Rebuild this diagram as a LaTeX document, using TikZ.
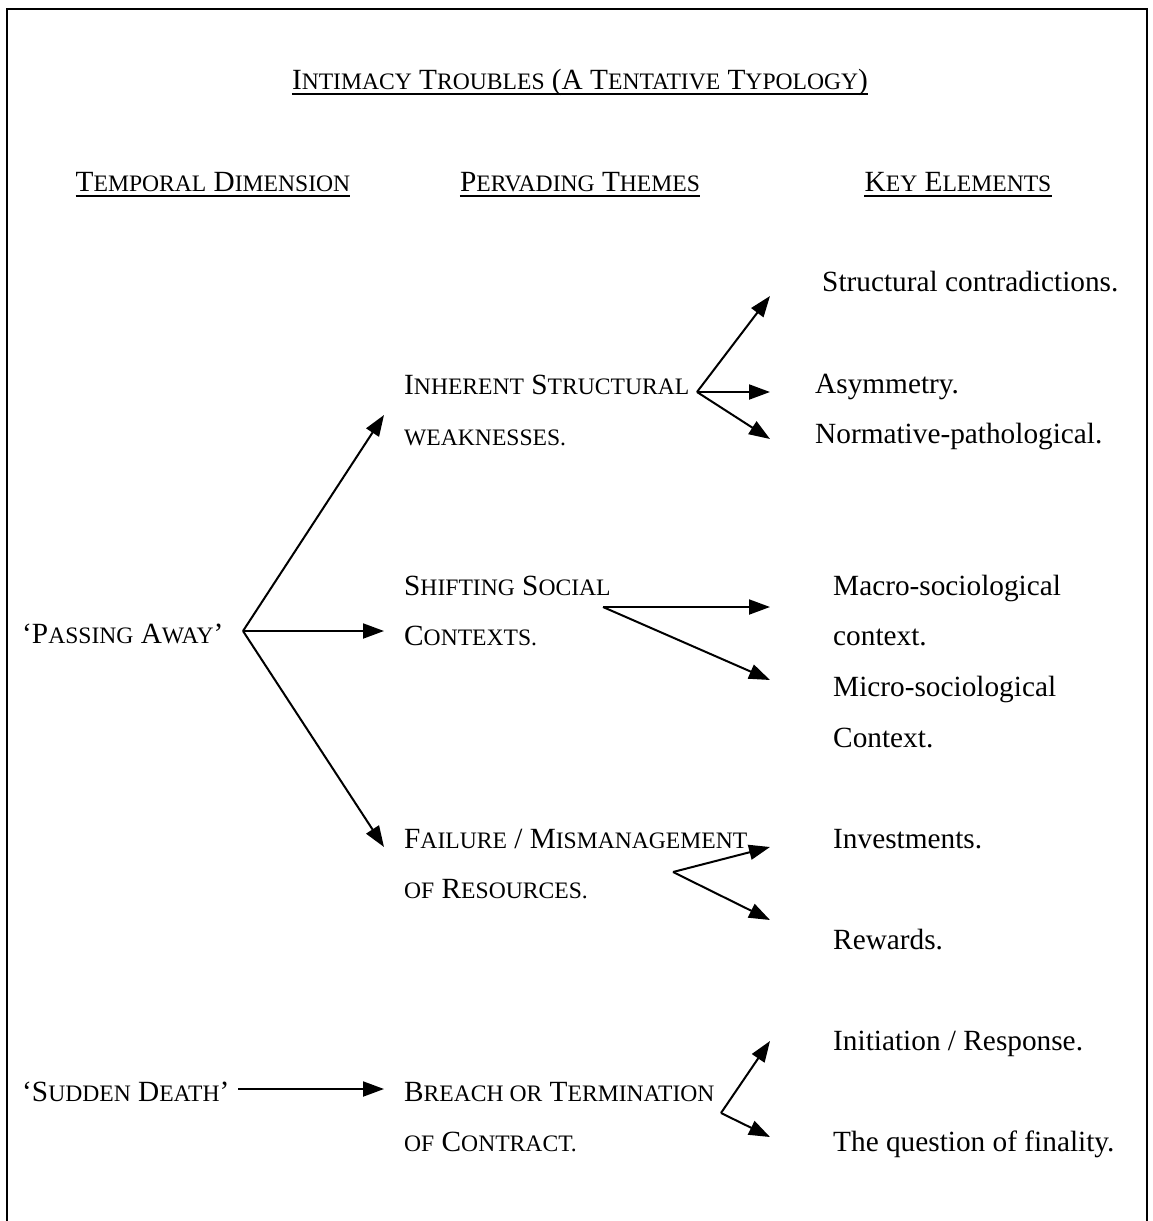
\documentclass[tikz,border=0pt]{standalone}
\usepackage{fontspec}
\setmainfont{Liberation Serif}
\usetikzlibrary{arrows.meta}
% hand-made small capitals: lower-case letters as reduced capitals
\newcommand\lsc[1]{{\fontsize{23.6}{24}\selectfont #1}}
\begin{document}
\begin{tikzpicture}[x=1pt,y=-1pt,
  txt/.style={anchor=base west,inner sep=0pt,font=\fontsize{29.3}{30}\selectfont},
  head/.style={anchor=base,inner sep=0pt,font=\fontsize{29.3}{30}\selectfont},
  uline/.style={line width=1.4pt},
  conn/.style={line width=2pt,-{Triangle[length=21pt,width=15pt]}}]
\useasboundingbox (0,0) rectangle (1153,1221);
% open frame
\draw[line width=1.6pt] (7,1221) -- (7,9) -- (1147,9) -- (1147,1221);

% headings
\node[head] (title) at (580,89) {I\lsc{NTIMACY} T\lsc{ROUBLES} (A T\lsc{ENTATIVE} T\lsc{YPOLOGY})};
\node[head] (hTemp) at (213,191) {T\lsc{EMPORAL} D\lsc{IMENSION}};
\node[head] (hTheme) at (580,191) {P\lsc{ERVADING} T\lsc{HEMES}};
\node[head] (hKey) at (958,191) {K\lsc{EY} E\lsc{LEMENTS}};
\foreach \h in {title,hTemp,hTheme,hKey}
  \draw[uline] ([yshift=-5pt]\h.base west) -- ([yshift=-5pt]\h.base east);

% temporal dimension
\node[txt] (pass) at (22,643) {`P\lsc{ASSING} A\lsc{WAY}'};
\node[txt] (sudden) at (22,1101) {`S\lsc{UDDEN} D\lsc{EATH}'};

% pervading themes
\node[txt] (inh1) at (404,394) {I\lsc{NHERENT} S\lsc{TRUCTURAL}};
\node[txt] (inh2) at (404,445) {\lsc{WEAKNESSES.}};
\node[txt] (shi1) at (404,595) {S\lsc{HIFTING} S\lsc{OCIAL}};
\node[txt] (shi2) at (404,645) {C\lsc{ONTEXTS.}};
\node[txt] (fai1) at (404,848) {F\lsc{AILURE} / M\lsc{ISMANAGEMENT}};
\node[txt] (fai2) at (404,898) {\lsc{OF} R\lsc{ESOURCES.}};
\node[txt] (bre1) at (404,1101) {B\lsc{REACH OR} T\lsc{ERMINATION}};
\node[txt] (bre2) at (404,1151) {\lsc{OF} C\lsc{ONTRACT.}};

% key elements
\node[txt] (k1) at (822,291) {Structural contradictions.};
\node[txt] (k2) at (815,393) {Asymmetry.};
\node[txt] (k3) at (815,443) {Normative-pathological.};
\node[txt] (k4) at (833,595) {Macro-sociological};
\node[txt] (k4b) at (833,645) {context.};
\node[txt] (k5) at (833,696) {Micro-sociological};
\node[txt] (k5b) at (833,747) {Context.};
\node[txt] (k6) at (833,848) {Investments.};
\node[txt] (k7) at (833,949) {Rewards.};
\node[txt] (k8) at (833,1050) {Initiation / Response.};
\node[txt] (k9) at (833,1151) {The question of finality.};

% branch points and arrow tips
\coordinate (pA) at (243,631);
\coordinate (pA1) at (384,415);
\coordinate (pA2) at (384,631);
\coordinate (pA3) at (384,847);
\coordinate (iS) at (697,392);
\coordinate (iS1) at (770,296);
\coordinate (iS2) at (770,392);
\coordinate (iS3) at (770,439);
\coordinate (sS) at (603,607);
\coordinate (sS1) at (770,607);
\coordinate (sS2) at (770,680);
\coordinate (fM) at (673,872);
\coordinate (fM1) at (770,847);
\coordinate (fM2) at (770,920);
\coordinate (sD) at (238,1089);
\coordinate (sD1) at (384,1089);
\coordinate (bT) at (721,1113);
\coordinate (bT1) at (770,1041);
\coordinate (bT2) at (770,1137);

% connectors
\draw[conn] (pA) -- (pA1);
\draw[conn] (pA) -- (pA2);
\draw[conn] (pA) -- (pA3);
\draw[conn] (iS) -- (iS1);
\draw[conn] (iS) -- (iS2);
\draw[conn] (iS) -- (iS3);
\draw[conn] (sS) -- (sS1);
\draw[conn] (sS) -- (sS2);
\draw[conn] (fM) -- (fM1);
\draw[conn] (fM) -- (fM2);
\draw[conn] (sD) -- (sD1);
\draw[conn] (bT) -- (bT1);
\draw[conn] (bT) -- (bT2);
\end{tikzpicture}
\end{document}
